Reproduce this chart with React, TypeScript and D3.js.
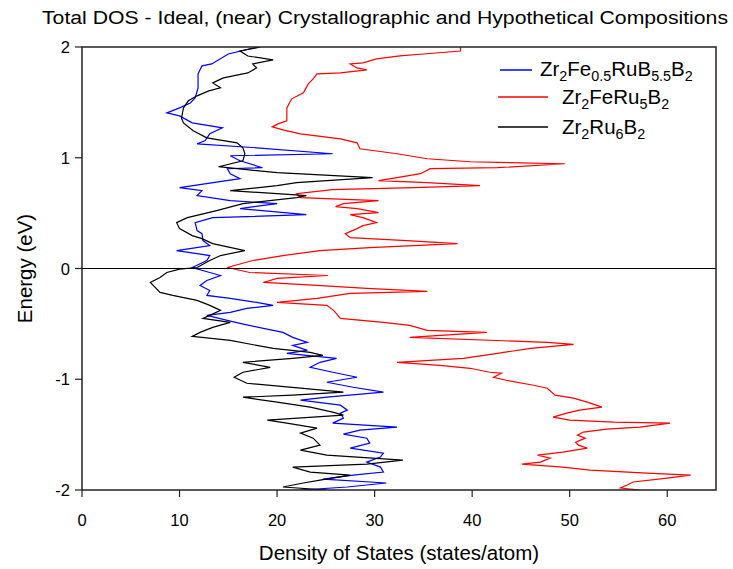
import React from "react";
import * as d3 from "d3";

const title = "Total DOS - Ideal, (near) Crystallographic and Hypothetical Compositions";
const xLabel = "Density of States (states/atom)";
const yLabel = "Energy (eV)";
const xTicks = [0, 10, 20, 30, 40, 50, 60];
const yTicks = [-2, -1, 0, 1, 2];

// [energy (eV), DOS (states/atom)]
const blueSeries: [number, number][] = [
  [2.0, 18.0], [1.937, 15.0], [1.847, 13.3], [1.83, 12.3], [1.757, 11.9], [1.631, 11.9], [1.541, 11.6],
  [1.495, 11.1], [1.45, 10.0], [1.405, 8.7], [1.378, 10.0], [1.315, 11.3], [1.27, 14.4], [1.216, 13.1],
  [1.153, 12.6], [1.126, 11.8], [1.09, 17.9], [1.036, 25.7], [1.018, 15.2], [0.973, 16.2], [0.91, 18.5],
  [0.901, 14.9], [0.856, 15.2], [0.811, 16.2], [0.73, 10.0], [0.703, 12.3], [0.658, 11.8], [0.613, 15.2],
  [0.586, 20.0], [0.541, 16.2], [0.486, 23.0], [0.459, 13.4], [0.414, 11.6], [0.342, 11.8], [0.315, 12.3],
  [0.252, 12.4], [0.207, 13.1], [0.162, 9.7], [0.117, 13.1], [0.072, 12.8], [0.009, 11.3],
  [-0.036, 13.1], [-0.063, 14.2], [-0.108, 12.8], [-0.153, 12.1], [-0.198, 13.1], [-0.243, 12.8],
  [-0.27, 15.2], [-0.306, 17.9], [-0.333, 19.6], [-0.36, 16.9], [-0.396, 15.2], [-0.423, 12.8],
  [-0.468, 14.9], [-0.495, 16.2], [-0.541, 18.6], [-0.577, 20.6], [-0.622, 21.6], [-0.667, 23.1],
  [-0.694, 21.6], [-0.739, 23.1], [-0.766, 21.0], [-0.811, 26.1], [-0.847, 24.4], [-0.892, 23.4],
  [-0.937, 25.7], [-0.982, 28.2], [-1.027, 25.1], [-1.072, 27.8], [-1.117, 30.9], [-1.162, 25.1],
  [-1.189, 22.4], [-1.234, 26.5], [-1.279, 27.2], [-1.306, 26.5], [-1.351, 26.8], [-1.396, 25.7],
  [-1.432, 32.3], [-1.459, 28.5], [-1.495, 26.8], [-1.532, 29.2], [-1.577, 29.5], [-1.622, 27.5],
  [-1.667, 30.9], [-1.703, 30.6], [-1.748, 29.2], [-1.793, 30.6], [-1.838, 30.9], [-1.865, 27.8],
  [-1.901, 24.7], [-1.937, 31.2], [-1.973, 27.2], [-2.0, 22.4],
];

const redSeries: [number, number][] = [
  [2.0, 38.8], [1.964, 38.8], [1.937, 35.0], [1.919, 32.6], [1.892, 30.2], [1.856, 28.8], [1.847, 27.5],
  [1.811, 28.2], [1.793, 29.2], [1.766, 26.5], [1.757, 24.1], [1.712, 23.7], [1.667, 23.2], [1.586, 22.7],
  [1.532, 21.5], [1.45, 21.0], [1.333, 21.0], [1.306, 20.1], [1.279, 19.5], [1.252, 20.6], [1.216, 22.4],
  [1.171, 26.5], [1.135, 28.2], [1.081, 28.5], [1.036, 32.3], [0.991, 35.4], [0.964, 39.8], [0.946, 49.5],
  [0.91, 42.6], [0.901, 35.7], [0.856, 34.7], [0.82, 32.3], [0.793, 30.4], [0.775, 35.4], [0.748, 40.8],
  [0.73, 34.0], [0.712, 25.7], [0.676, 22.0], [0.64, 22.4], [0.613, 30.4], [0.586, 26.8], [0.559, 26.0],
  [0.541, 28.2], [0.505, 30.4], [0.486, 27.5], [0.459, 28.8], [0.414, 30.2], [0.387, 28.8], [0.36, 28.2],
  [0.315, 27.0], [0.279, 27.5], [0.252, 33.3], [0.225, 38.5], [0.189, 29.5], [0.162, 24.4], [0.117, 20.6],
  [0.072, 17.5], [0.009, 14.9],
  [-0.036, 17.2], [-0.063, 25.2], [-0.09, 20.0], [-0.126, 18.6], [-0.153, 24.1], [-0.18, 29.2],
  [-0.207, 35.4], [-0.225, 27.5], [-0.27, 24.1], [-0.306, 20.0], [-0.333, 25.1], [-0.378, 25.8],
  [-0.45, 26.5], [-0.486, 30.9], [-0.514, 33.6], [-0.559, 35.4], [-0.577, 41.5], [-0.622, 33.6],
  [-0.667, 47.7], [-0.685, 50.4], [-0.721, 46.0], [-0.766, 42.6], [-0.811, 39.1], [-0.847, 32.3],
  [-0.874, 36.7], [-0.901, 39.8], [-0.937, 41.8], [-0.946, 43.0], [-0.982, 42.2], [-1.009, 43.5],
  [-1.054, 46.3], [-1.081, 47.7], [-1.144, 48.5], [-1.171, 50.4], [-1.207, 51.8], [-1.252, 53.3],
  [-1.279, 51.0], [-1.306, 49.7], [-1.342, 48.3], [-1.369, 50.0], [-1.387, 54.5], [-1.396, 60.3],
  [-1.432, 57.2], [-1.45, 53.8], [-1.477, 51.4], [-1.505, 50.8], [-1.532, 51.6], [-1.568, 50.6],
  [-1.595, 50.9], [-1.622, 51.8], [-1.658, 49.3], [-1.685, 46.7], [-1.712, 48.0], [-1.748, 47.0],
  [-1.766, 45.1], [-1.793, 49.3], [-1.82, 52.1], [-1.847, 57.9], [-1.865, 62.4], [-1.892, 60.0],
  [-1.928, 56.5], [-1.955, 55.9], [-1.982, 55.2], [-2.0, 57.2],
];

const blackSeries: [number, number][] = [
  [2.0, 18.3], [1.964, 16.2], [1.919, 17.0], [1.883, 19.6], [1.847, 17.5], [1.811, 17.9], [1.766, 17.0],
  [1.721, 14.5], [1.676, 13.4], [1.631, 14.2], [1.604, 13.0], [1.559, 11.8], [1.514, 10.9], [1.45, 10.4],
  [1.36, 10.2], [1.315, 10.4], [1.243, 11.4], [1.18, 12.8], [1.135, 15.9], [1.09, 16.5], [1.036, 16.7],
  [0.973, 16.5], [0.919, 14.0], [0.901, 15.9], [0.865, 20.0], [0.82, 29.8], [0.775, 22.0], [0.748, 20.0],
  [0.703, 15.2], [0.676, 20.0], [0.658, 23.0], [0.64, 22.0], [0.586, 16.5], [0.523, 13.8], [0.459, 10.8],
  [0.414, 9.7], [0.36, 10.0], [0.297, 11.3], [0.27, 12.3], [0.225, 13.4], [0.162, 16.7], [0.117, 14.2],
  [0.072, 13.1], [0.009, 11.8], [-0.005, 10.0],
  [-0.036, 8.7], [-0.081, 8.0], [-0.126, 7.0], [-0.171, 7.5], [-0.216, 8.0], [-0.243, 9.3], [-0.288, 11.8],
  [-0.333, 13.1], [-0.378, 14.2], [-0.423, 13.1], [-0.45, 12.4], [-0.486, 15.2], [-0.532, 13.4],
  [-0.577, 12.1], [-0.613, 11.3], [-0.649, 15.2], [-0.694, 17.9], [-0.721, 19.6], [-0.757, 23.4],
  [-0.784, 24.7], [-0.811, 21.6], [-0.847, 16.5], [-0.892, 19.3], [-0.937, 16.5], [-0.982, 15.6],
  [-1.036, 16.9], [-1.081, 22.4], [-1.117, 26.8], [-1.144, 21.6], [-1.162, 16.5], [-1.207, 20.0],
  [-1.252, 23.4], [-1.297, 25.7], [-1.324, 26.8], [-1.369, 19.0], [-1.396, 21.0], [-1.441, 24.1],
  [-1.486, 22.4], [-1.532, 23.7], [-1.595, 24.4], [-1.64, 22.4], [-1.685, 25.1], [-1.73, 32.9],
  [-1.766, 29.2], [-1.793, 21.6], [-1.838, 23.4], [-1.865, 27.5], [-1.91, 24.4], [-1.937, 22.7],
  [-1.973, 20.6], [-2.0, 25.1],
];

// legend labels as [text, isSubscript]
const blueLabel: [string, boolean][] = [["Zr", false], ["2", true], ["Fe", false], ["0.5", true], ["RuB", false], ["5.5", true], ["B", false], ["2", true]];
const redLabel: [string, boolean][] = [["Zr", false], ["2", true], ["FeRu", false], ["5", true], ["B", false], ["2", true]];
const blackLabel: [string, boolean][] = [["Zr", false], ["2", true], ["Ru", false], ["6", true], ["B", false], ["2", true]];

const W = 733;
const H = 569;
const left = 82, right = 716, top = 47, bottom = 490;
const FONT = "'Liberation Sans', Arial, sans-serif";

function Label({ parts, x, y, size }: { parts: [string, boolean][]; x: number; y: number; size: number }) {
  let prevSub = false;
  return (
    <text x={x} y={y} fontSize={size} fontFamily={FONT} fill="#000">
      {parts.map(([t, sub], i) => {
        const dy = sub && !prevSub ? size * 0.22 : !sub && prevSub ? -size * 0.22 : 0;
        prevSub = sub;
        return (
          <tspan key={i} dy={dy} fontSize={sub ? size * 0.7 : size}>
            {t}
          </tspan>
        );
      })}
    </text>
  );
}

export default function App() {
  const x = d3.scaleLinear().domain([0, 65]).range([left, right]);
  const y = d3.scaleLinear().domain([-2, 2]).range([bottom, top]);
  const line = d3
    .line<[number, number]>()
    .x((d) => x(d[1]))
    .y((d) => y(d[0]));

  const series = [
    { data: blueSeries, color: "#0000ff", label: blueLabel },
    { data: redSeries, color: "#ff0000", label: redLabel },
    { data: blackSeries, color: "#000000", label: blackLabel },
  ];
  const legendRows = [
    { x1: 500, x2: 532, y: 70, tx: 540, ty: 76 },
    { x1: 498, x2: 548, y: 97, tx: 562, ty: 104 },
    { x1: 498, x2: 548, y: 127, tx: 562, ty: 134 },
  ];

  return (
    <svg width={W} height={H} style={{ position: "absolute", left: 0, top: 0, background: "#fff" }}>
      <rect x={0} y={0} width={W} height={H} fill="#fff" />
      <text x={385} y={24} textAnchor="middle" fontSize={18} fontFamily={FONT} fill="#000"
        textLength={686} lengthAdjust="spacingAndGlyphs">
        {title}
      </text>
      <defs>
        <clipPath id="plotClip">
          <rect x={left} y={top} width={right - left} height={bottom - top} />
        </clipPath>
      </defs>
      <g clipPath="url(#plotClip)">
        {series.map((s, i) => (
          <path key={i} d={line(s.data) || ""} fill="none" stroke={s.color} strokeWidth={1.2} />
        ))}
      </g>
      <line x1={left} x2={right} y1={y(0)} y2={y(0)} stroke="#000" strokeWidth={1.2} />
      <rect x={left} y={top} width={right - left} height={bottom - top} fill="none" stroke="#222" strokeWidth={1.5} />
      {yTicks.map((t) => (
        <g key={t}>
          <line x1={left - 7} x2={left} y1={y(t)} y2={y(t)} stroke="#222" strokeWidth={1.2} />
          <text x={left - 12} y={y(t) + 6} textAnchor="end" fontSize={16.5} fontFamily={FONT} fill="#000">
            {t}
          </text>
        </g>
      ))}
      {xTicks.map((t) => (
        <g key={t}>
          <line x1={x(t)} x2={x(t)} y1={bottom} y2={bottom + 7} stroke="#222" strokeWidth={1.2} />
          <text x={x(t)} y={bottom + 36} textAnchor="middle" fontSize={16.5} fontFamily={FONT} fill="#000">
            {t}
          </text>
        </g>
      ))}
      <text x={399} y={560} textAnchor="middle" fontSize={20.5} fontFamily={FONT} fill="#000">
        {xLabel}
      </text>
      <text
        transform={`translate(32, ${y(0)}) rotate(-90)`}
        textAnchor="middle"
        fontSize={20.5}
        fontFamily={FONT}
        fill="#000"
      >
        {yLabel}
      </text>
      {series.map((s, i) => {
        const r = legendRows[i];
        return (
          <g key={i}>
            <line x1={r.x1} x2={r.x2} y1={r.y} y2={r.y} stroke={s.color} strokeWidth={1.5} />
            <Label parts={s.label} x={r.tx} y={r.ty} size={20.5} />
          </g>
        );
      })}
    </svg>
  );
}
